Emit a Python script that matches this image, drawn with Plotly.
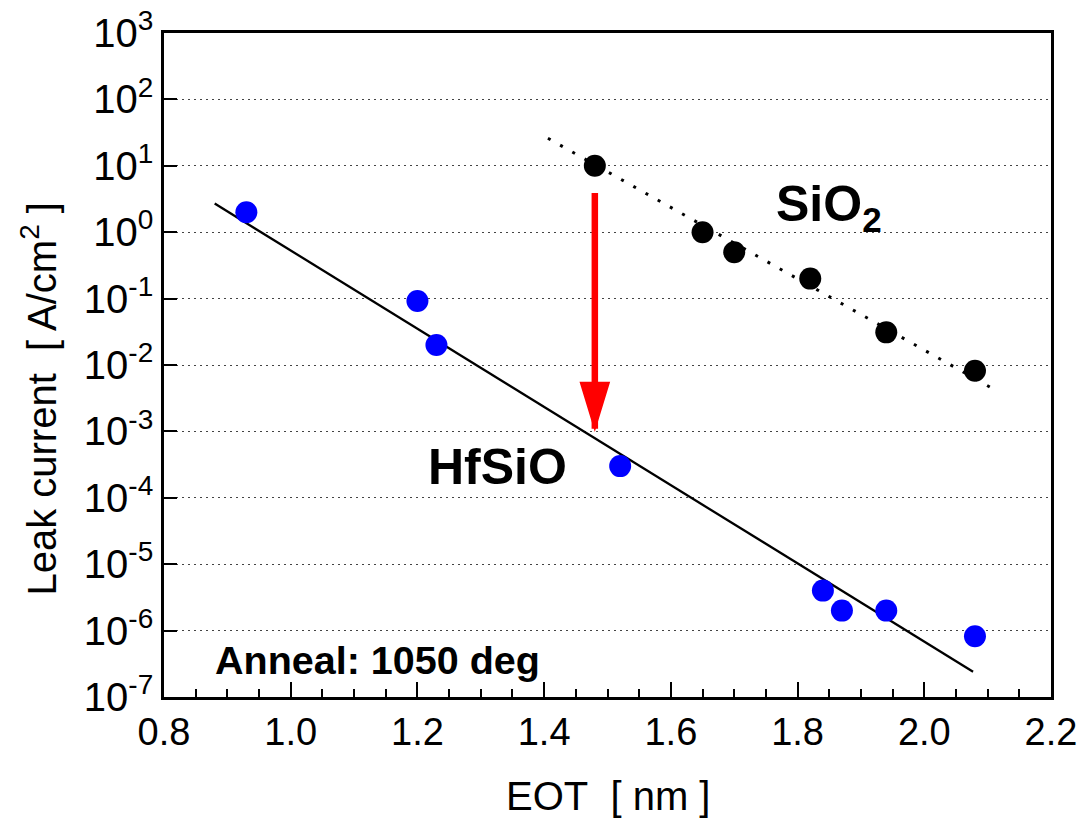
import plotly.graph_objects as go

# ---- data ----
hfsio_eot = [0.93, 1.20, 1.23, 1.52, 1.84, 1.87, 1.94, 2.08]
hfsio_leak = [2.0, 0.092, 0.020, 3.0e-4, 4.0e-6, 2.0e-6, 2.0e-6, 8.2e-7]
sio2_eot = [1.48, 1.65, 1.70, 1.82, 1.94, 2.08]
sio2_leak = [10.0, 1.0, 0.5, 0.2, 0.031, 0.0082]
hfsio_fit_eot = [0.88, 2.077]
hfsio_fit_leak = [2.7, 2.4e-7]
sio2_fit_eot = [1.406, 2.11]
sio2_fit_leak = [26.0, 0.0043]
arrow_eot = 1.48
arrow_from = 3.9
arrow_to = 1.1e-3

y_tickvals = [1e-7, 1e-6, 1e-5, 1e-4, 1e-3, 1e-2, 1e-1, 1e0, 1e1, 1e2, 1e3]
y_ticktext = ["10<sup>-7</sup>", "10<sup>-6</sup>", "10<sup>-5</sup>", "10<sup>-4</sup>",
              "10<sup>-3</sup>", "10<sup>-2</sup>", "10<sup>-1</sup>", "10<sup>0</sup>",
              "10<sup>1</sup>", "10<sup>2</sup>", "10<sup>3</sup>"]
x_tickvals = [0.8, 1.0, 1.2, 1.4, 1.6, 1.8, 2.0, 2.2]
x_ticktext = ["0.8", "1.0", "1.2", "1.4", "1.6", "1.8", "2.0", "2.2"]
x_minor_tickvals = [0.85, 0.9, 0.95, 1.05, 1.1, 1.15, 1.25, 1.3, 1.35,
                    1.45, 1.5, 1.55, 1.65, 1.7, 1.75, 1.85, 1.9, 1.95,
                    2.05, 2.1, 2.15]

FONT = "Liberation Sans, Arial, sans-serif"

fig = go.Figure()

fig.add_trace(go.Scatter(x=sio2_fit_eot, y=sio2_fit_leak, mode="lines",
                         line=dict(color="black", width=3, dash="3px,11px"),
                         showlegend=False, hoverinfo="skip"))
fig.add_trace(go.Scatter(x=hfsio_fit_eot, y=hfsio_fit_leak, mode="lines",
                         line=dict(color="black", width=2.3),
                         showlegend=False, hoverinfo="skip"))
fig.add_trace(go.Scatter(x=sio2_eot, y=sio2_leak, mode="markers",
                         marker=dict(color="black", size=22, line=dict(width=0)),
                         showlegend=False))
fig.add_trace(go.Scatter(x=hfsio_eot, y=hfsio_leak, mode="markers",
                         marker=dict(color="#0000FF", size=22, line=dict(width=0)),
                         showlegend=False))

# red arrow: shaft + head
fig.add_shape(type="line", xref="x", yref="y",
              x0=arrow_eot, x1=arrow_eot, y0=arrow_from, y1=arrow_to,
              line=dict(color="#FF0000", width=6.5))
fig.add_shape(type="path", xref="x", yref="y",
              xsizemode="pixel", ysizemode="pixel",
              xanchor=arrow_eot, yanchor=arrow_to,
              path="M0,0 L-14,46 L14,46 Z",
              fillcolor="#FF0000", line=dict(color="#FF0000", width=2))

annotations = [
    dict(text="<b>SiO<sub>2</sub></b>", x=1.762, y=0.37, xref="x", yref="y",
         xanchor="left", yanchor="middle", showarrow=False,
         font=dict(family=FONT, size=50, color="black")),
    dict(text="<b>HfSiO</b>", x=1.2140, y=-3.53, xref="x", yref="y",
         xanchor="left", yanchor="middle", showarrow=False,
         font=dict(family=FONT, size=50, color="black")),
    dict(text="<b>Anneal: 1050 deg</b>", x=0.877, y=-6.45, xref="x", yref="y",
         xanchor="left", yanchor="middle", showarrow=False,
         font=dict(family=FONT, size=39.5, color="black")),
    dict(text="Leak current\u00a0 [ A/cm<sup>2</sup> ]", x=-0.1405, y=0.450,
         xref="paper", yref="paper", xanchor="center", yanchor="middle",
         textangle=-90, showarrow=False,
         font=dict(family=FONT, size=40, color="black")),
    dict(text="EOT\u00a0 [ nm ]", x=0.5, y=-0.149, xref="paper", yref="paper",
         xanchor="center", yanchor="middle", showarrow=False,
         font=dict(family=FONT, size=40, color="black")),
]

fig.update_layout(
    width=1084, height=818,
    margin=dict(l=164, r=33, t=33, b=121, autoexpand=False),
    paper_bgcolor="white", plot_bgcolor="white",
    font=dict(family=FONT, color="black"),
    annotations=annotations,
    showlegend=False,
)

fig.update_xaxes(
    range=[0.8, 2.2], tickvals=x_tickvals, ticktext=x_ticktext,
    ticks="inside", ticklen=15, tickwidth=2, tickcolor="black",
    minor=dict(tickvals=x_minor_tickvals,
               ticks="inside", ticklen=8, tickwidth=2,
               tickcolor="black", showgrid=False),
    showline=True, linecolor="black", linewidth=2.5, mirror=True,
    showgrid=False, zeroline=False, automargin=False,
    tickfont=dict(family=FONT, size=38, color="black"),
)
fig.update_yaxes(
    type="log", range=[-7, 3], tickvals=y_tickvals, ticktext=y_ticktext,
    ticks="inside", ticklen=13, tickwidth=2, tickcolor="black",
    showline=True, linecolor="black", linewidth=2.5, mirror=True,
    showgrid=True, gridcolor="#444444", gridwidth=1, griddash="2px,4px",
    zeroline=False, automargin=False,
    tickfont=dict(family=FONT, size=40, color="black"),
)

fig.write_html("out.html")
